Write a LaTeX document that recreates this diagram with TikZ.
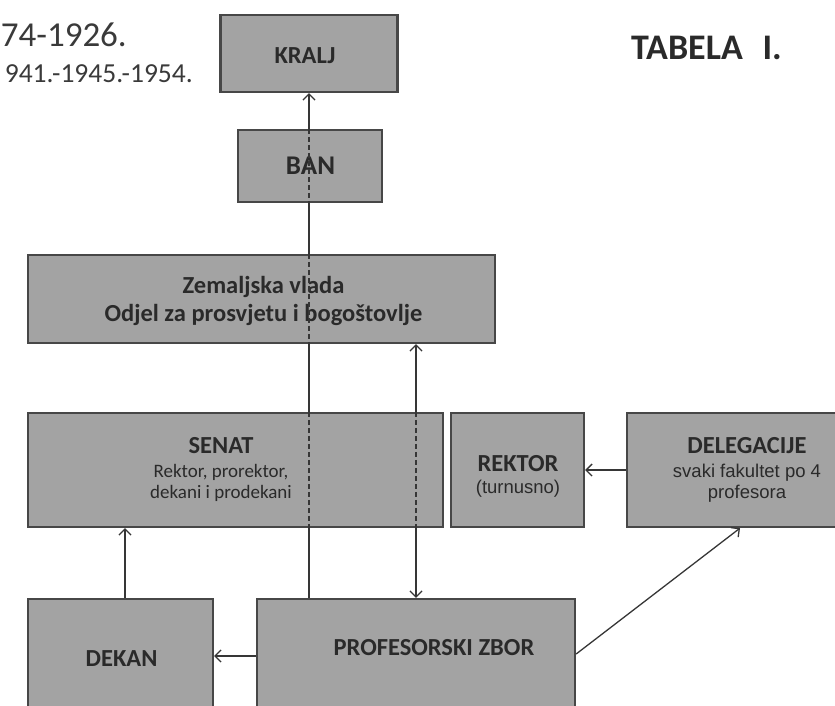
\documentclass[tikz,border=0pt]{standalone}
\usepackage{fontspec}
\setmainfont{Carlito}
\newfontfamily\arialf{Liberation Sans}
\usetikzlibrary{arrows.meta,calc}
\pgfdeclarelayer{bg}
\pgfsetlayers{bg,main}
\definecolor{boxfill}{HTML}{A3A3A3}
\definecolor{boxline}{HTML}{474747}
\definecolor{txt}{HTML}{2A2A2A}
\definecolor{linec}{HTML}{363636}
\definecolor{toptxt}{HTML}{3A3A3A}
\begin{document}
\begin{tikzpicture}[x=1pt,y=-1pt,
  box/.style={draw=boxline, line width=2.3pt, fill=boxfill, inner sep=0pt},
  ttl/.style={text=txt, inner sep=0pt, anchor=base, font=\bfseries\fontsize{24.5}{28}\selectfont},
  subc/.style={text=txt, inner sep=0pt, anchor=base, font=\fontsize{19}{21}\selectfont},
  suba/.style={text=txt, inner sep=0pt, anchor=base, font=\arialf\fontsize{18.5}{21}\selectfont},
  conn/.style={draw=linec, line width=1.3pt, -{Straight Barb[length=6pt,width=12pt]}},
  dconn/.style={draw=linec, line width=1.3pt, {Straight Barb[length=6pt,width=12pt]}-{Straight Barb[length=6pt,width=12pt]}},
  dline/.style={draw=linec, line width=1.1pt, dash pattern=on 5pt off 3pt}
]
\useasboundingbox (0,0) rectangle (835,706);

% header texts
\node[text=toptxt, inner sep=0pt, anchor=base east, font=\fontsize{35}{40}\selectfont] (yr1) at (127,47) {74-1926.};
\node[text=toptxt, inner sep=0pt, anchor=base east, font=\fontsize{27.5}{30}\selectfont] (yr2) at (193,83) {941.-1945.-1954.};
\node[text=txt, inner sep=0pt, anchor=base west, font=\bfseries\fontsize{36}{40}\selectfont] (tab) at (631,60) {TABELA\hspace{0.55em}I.};

% boxes
\node[box, minimum width=177pt, minimum height=77pt] (kralj) at (309,53.5) {};
\node[box, minimum width=144pt, minimum height=72pt] (ban) at (310,166) {};
\node[box, minimum width=467pt, minimum height=88pt] (zem) at (261.5,299) {};
\node[box, minimum width=415pt, minimum height=114pt] (senat) at (235.5,470) {};
\node[box, minimum width=133pt, minimum height=114pt] (rektor) at (517.5,470) {};
\node[box, minimum width=240pt, minimum height=114pt] (deleg) at (747,470) {};
\node[box, minimum width=185pt, minimum height=114pt] (dekan) at (120.5,656) {};
\node[box, minimum width=318pt, minimum height=114pt] (prof) at (416,656) {};

% texts
\node[ttl] (kraljT) at (305,64) {KRALJ};
\node[ttl, font=\bfseries\fontsize{27}{30}\selectfont] (banT) at (310.5,175) {BAN};
\node[ttl] (zemT1) at (263.5,293) {Zemaljska vlada};
\node[ttl] (zemT2) at (263.5,321) {Odjel za prosvjetu i bogoštovlje};
\node[ttl] (senatT) at (221,453) {SENAT};
\node[subc] (senatS1) at (221,477) {Rektor, prorektor,};
\node[subc] (senatS2) at (221,498) {dekani i prodekani};
\node[ttl] (rektorT) at (518,471) {REKTOR};
\node[suba] (rektorS) at (518,493) {(turnusno)};
\node[ttl] (delegT) at (747,453) {DELEGACIJE};
\node[suba] (delegS1) at (747,477) {svaki fakultet po 4};
\node[suba] (delegS2) at (747,498) {profesora};
\node[ttl] (dekanT) at (121.5,666) {DEKAN};
\node[ttl] (profT) at (434,655) {PROFESORSKI ZBOR};

\coordinate (v2) at (416,0);

% solid connectors behind the boxes
\begin{pgfonlayer}{bg}
\draw[conn] (prof.north -| kralj.south) -- (kralj.south);
\draw[dconn] (zem.south -| v2) -- (prof.north -| v2);
\end{pgfonlayer}

% dashed parts across boxes
\draw[dline] (ban.north -| kralj.south) -- (ban.south -| kralj.south);
\draw[dline] (zem.north -| kralj.south) -- (zem.south -| kralj.south);
\draw[dline] (senat.north -| kralj.south) -- (senat.south -| kralj.south);
\draw[dline] (senat.north -| v2) -- (senat.south -| v2);

% other connectors
\draw[conn] ([xshift=4.5pt]dekan.north) -- ([xshift=4.5pt]dekan.north |- senat.south);
\draw[conn] (prof.west) -- (dekan.east);
\draw[conn] (deleg.west) -- (rektor.east);
\draw[conn] ([yshift=2pt]prof.east) -- ([xshift=-7pt]deleg.south);
\end{tikzpicture}
\end{document}
